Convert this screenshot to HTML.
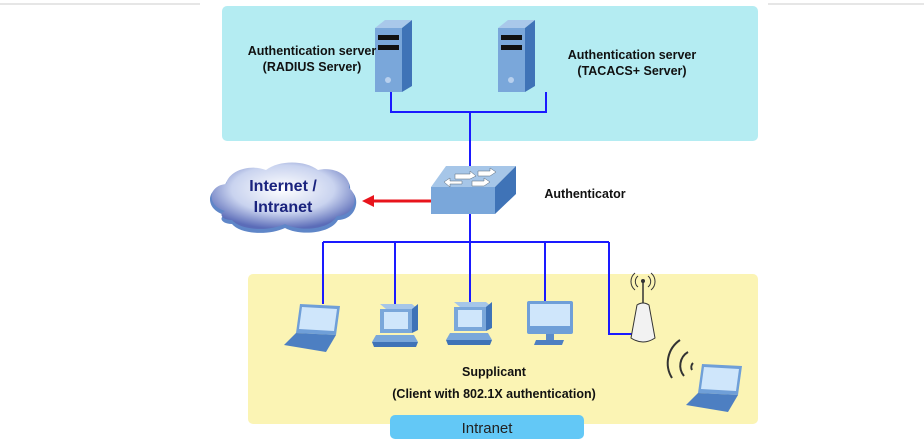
<!DOCTYPE html>
<html><head><style>
body{margin:0;background:#fff;}
svg{display:block;font-family:"Liberation Sans",Arial,sans-serif;}
</style></head><body>
<svg width="924" height="443" viewBox="0 0 924 443">
<defs>
<radialGradient id="cg" cx="50%" cy="40%" r="60%"><stop offset="0" stop-color="#fff"/><stop offset="0.6" stop-color="#c9d3ef"/><stop offset="1" stop-color="#5b6cb8"/></radialGradient>
</defs>
<line x1="0" y1="4" x2="200" y2="4" stroke="#ccc"/>
<line x1="768" y1="4" x2="924" y2="4" stroke="#ccc"/>
<rect x="222" y="6" width="536" height="135" rx="5" fill="#b4ecf2"/>
<rect x="248" y="274" width="510" height="150" rx="5" fill="#fbf4b4"/>
<rect x="390" y="415" width="194" height="24" rx="5" fill="#63c8f6"/>
<text x="487" y="433" font-size="15" text-anchor="middle" fill="#222">Intranet</text>
<g stroke="#1a1aff" stroke-width="2" fill="none">
<polyline points="391,92 391,112 546,112 546,92"/>
<line x1="470" y1="112" x2="470" y2="168"/>
<line x1="470" y1="213" x2="470" y2="303"/>
<line x1="323" y1="242" x2="609" y2="242"/>
<line x1="323" y1="242" x2="323" y2="304"/>
<line x1="395" y1="242" x2="395" y2="306"/>
<line x1="545" y1="242" x2="545" y2="302"/>
<polyline points="609,242 609,334 632,334"/>
</g>
<g>
<polygon points="375,28 402,28 412,20 385,20" fill="#a9c8ea"/>
<rect x="375" y="28" width="27" height="64" fill="#7aa7da"/>
<polygon points="402,28 412,20 412,86 402,92" fill="#3f73b7"/>
<rect x="378" y="35" width="21" height="5" fill="#111"/><rect x="378" y="45" width="21" height="5" fill="#111"/>
<circle cx="388" cy="80" r="3" fill="#b8d0ee"/>
<polygon points="498,28 525,28 535,20 508,20" fill="#a9c8ea"/>
<rect x="498" y="28" width="27" height="64" fill="#7aa7da"/>
<polygon points="525,28 535,20 535,86 525,92" fill="#3f73b7"/>
<rect x="501" y="35" width="21" height="5" fill="#111"/><rect x="501" y="45" width="21" height="5" fill="#111"/>
<circle cx="511" cy="80" r="3" fill="#b8d0ee"/>
</g>
<g font-size="12.5" font-weight="bold" fill="#111" text-anchor="middle">
<text x="312" y="55">Authentication server</text>
<text x="312" y="71">(RADIUS Server)</text>
<text x="632" y="59">Authentication server</text>
<text x="632" y="75">(TACACS+ Server)</text>
<text x="585" y="198">Authenticator</text>
<text x="494" y="376">Supplicant</text>
<text x="494" y="398">(Client with 802.1X authentication)</text>
</g>
<polygon points="431,187 446,166 516,166 495,187" fill="#a6c6e8"/>
<rect x="431" y="187" width="64" height="27" fill="#7aa7da"/>
<polygon points="495,187 516,166 516,194 495,214" fill="#3f73b7"/>
<g fill="#fff" stroke="#567" stroke-width="0.5">
<polygon points="455,174 470,174 470,171 476,176 470,179 455,179"/>
<polygon points="482,174 494,174 494,171 500,175 494,179 482,179" transform="translate(-4,-3)"/>
<polygon points="450,182 462,182 462,185 450,185 450,188 444,183 450,179" transform="translate(0,-1)"/>
<polygon points="472,181 484,181 484,178 490,182 484,186 472,186"/>
</g>
<line x1="431" y1="201" x2="372" y2="201" stroke="#e8141c" stroke-width="3"/>
<polygon points="362,201 374,195 374,207" fill="#e8141c"/>
<path d="M225,215 C205,210 205,188 225,186 C228,172 250,166 265,172 C278,162 305,162 318,172 C335,168 352,178 350,190 C362,198 356,220 338,220 C330,234 300,236 285,228 C268,236 240,234 232,224 C222,224 218,218 225,215Z" fill="#5f86c8"/>
<path d="M225,211 C207,206 207,186 226,184 C229,170 251,164 266,170 C279,160 305,160 318,170 C335,166 351,176 349,188 C360,196 354,216 337,216 C329,230 300,232 285,224 C268,232 240,230 232,220 C222,220 218,214 225,211Z" fill="url(#cg)"/>
<g font-size="16" font-weight="bold" fill="#1a237e" text-anchor="middle">
<text x="283" y="191">Internet /</text>
<text x="283" y="212">Intranet</text>
</g>
<polygon points="300,304 340,306 336,335 296,333" fill="#6f9fd8"/>
<polygon points="302,307 337,309 334,331 299,329" fill="#cfe6fb"/>
<polygon points="296,333 336,335 326,352 284,345" fill="#4d7fc2"/>
<polygon points="380,304 412,304 418,309 386,309" fill="#a6c6e8"/>
<rect x="380" y="309" width="32" height="24" fill="#7aa7da"/>
<polygon points="412,309 418,304 418,330 412,333" fill="#3f73b7"/>
<rect x="384" y="312" width="24" height="17" fill="#cfe6fb"/>
<polygon points="376,335 414,335 418,342 372,342" fill="#7aa7da"/>
<polygon points="372,342 418,342 416,347 374,347" fill="#3f73b7"/>
<g transform="translate(74,-2)">
<polygon points="380,304 412,304 418,309 386,309" fill="#a6c6e8"/>
<rect x="380" y="309" width="32" height="24" fill="#7aa7da"/>
<polygon points="412,309 418,304 418,330 412,333" fill="#3f73b7"/>
<rect x="384" y="312" width="24" height="17" fill="#cfe6fb"/>
<polygon points="376,335 414,335 418,342 372,342" fill="#7aa7da"/>
<polygon points="372,342 418,342 416,347 374,347" fill="#3f73b7"/>
</g>
<rect x="527" y="301" width="46" height="33" rx="2" fill="#6f9fd8"/>
<rect x="530" y="304" width="40" height="22" fill="#cfe6fb"/>
<rect x="546" y="334" width="8" height="6" fill="#5b8bc9"/>
<polygon points="536,340 564,340 562,345 534,345" fill="#4d7fc2"/>
<line x1="643" y1="282" x2="643" y2="305" stroke="#333" stroke-width="1.5"/>
<circle cx="643" cy="281" r="2" fill="#333"/>
<path d="M638,276 A7,7 0 0 0 638,287 M648,276 A7,7 0 0 1 648,287 M635,273 A11,11 0 0 0 635,290 M651,273 A11,11 0 0 1 651,290" stroke="#333" fill="none"/>
<path d="M637,305 Q643,301 649,305 L655,338 Q643,346 631,338 Z" fill="#f2f2f2" stroke="#333"/>
<path d="M680,340 A28,28 0 0 0 672,378 M688,352 A16,16 0 0 0 684,376 M693,363 A6,6 0 0 0 692,370" stroke="#333" stroke-width="2" fill="none"/>
<polygon points="702,364 742,366 738,395 698,393" fill="#6f9fd8"/>
<polygon points="704,367 739,369 736,391 701,389" fill="#cfe6fb"/>
<polygon points="698,393 738,395 728,412 686,405" fill="#4d7fc2"/>
</svg>
</body></html>
